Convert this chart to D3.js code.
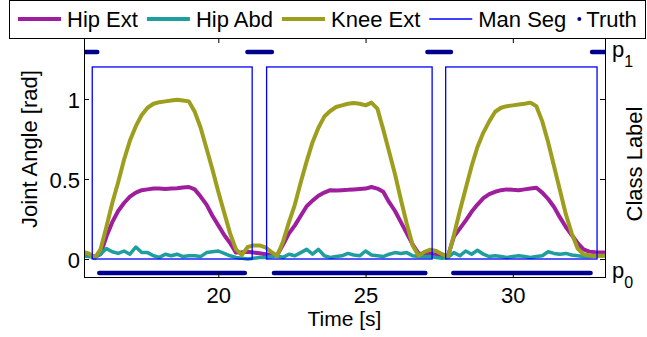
<!DOCTYPE html>
<html>
<head>
<meta charset="utf-8">
<script src="https://cdn.jsdelivr.net/npm/d3@7"></script>
<style>
  html, body { margin: 0; padding: 0; background: #fff; }
  svg { display: block; font-family: "Liberation Sans", Arial, Helvetica, sans-serif; }
</style>
</head>
<body>
<svg id="chart" width="647" height="337"></svg>
<script>
// Sample times [s]
const time = [15.4, 15.6, 15.8, 16.0, 16.2, 16.4, 16.6, 16.8, 17.0, 17.2, 17.4, 17.6, 17.8, 18.0, 18.2,
  18.4, 18.6, 18.8, 19.0, 19.2, 19.4, 19.6, 19.8, 20.0, 20.2, 20.4, 20.6, 20.8, 21.0, 21.2,
  21.4, 21.6, 21.8, 22.0, 22.2, 22.4, 22.6, 22.8, 23.0, 23.2, 23.4, 23.6, 23.8, 24.0, 24.2,
  24.4, 24.6, 24.8, 25.0, 25.2, 25.4, 25.6, 25.8, 26.0, 26.2, 26.4, 26.6, 26.8, 27.0, 27.2,
  27.4, 27.6, 27.8, 28.0, 28.2, 28.4, 28.6, 28.8, 29.0, 29.2, 29.4, 29.6, 29.8, 30.0, 30.2,
  30.4, 30.6, 30.8, 31.0, 31.2, 31.4, 31.6, 31.8, 32.0, 32.2, 32.4, 32.6, 32.8, 33.0, 33.2];

// Joint angles [rad]
const hipExt = [0.02, 0.02, 0.015, 0.03, 0.14, 0.23, 0.30, 0.35, 0.39, 0.415, 0.43, 0.435, 0.44, 0.44, 0.437,
  0.44, 0.442, 0.447, 0.45, 0.435, 0.39, 0.34, 0.27, 0.21, 0.15, 0.10, 0.04, 0.042, 0.045, 0.04,
  0.036, 0.03, 0.025, 0.025, 0.09, 0.16, 0.21, 0.27, 0.33, 0.365, 0.395, 0.415, 0.43, 0.428, 0.43,
  0.432, 0.435, 0.438, 0.44, 0.45, 0.44, 0.42, 0.355, 0.30, 0.23, 0.16, 0.09, 0.035, 0.03, 0.036,
  0.025, 0.015, 0.02, 0.14, 0.19, 0.24, 0.295, 0.34, 0.38, 0.405, 0.42, 0.43, 0.435, 0.432, 0.43,
  0.435, 0.44, 0.445, 0.415, 0.375, 0.325, 0.26, 0.20, 0.15, 0.10, 0.06, 0.046, 0.042, 0.04, 0.04];

const hipAbd = [0.02, 0.015, 0.01, 0.03, 0.065, 0.045, 0.035, 0.05, 0.03, 0.075, 0.04, 0.04, 0.02, 0.01, 0.03,
  0.02, 0.03, 0.015, 0.02, 0.02, 0.015, 0.04, 0.045, 0.05, 0.035, 0.02, 0.01, 0.005, 0.0, 0.005,
  0.01, 0.01, 0.015, 0.02, 0.01, 0.03, 0.02, 0.04, 0.06, 0.03, 0.06, 0.02, 0.01, 0.015, 0.02,
  0.035, 0.025, 0.02, 0.05, 0.025, 0.02, 0.015, 0.03, 0.04, 0.035, 0.04, 0.02, 0.015, 0.015, 0.015,
  0.01, 0.005, 0.01, 0.04, 0.02, 0.05, 0.03, 0.055, 0.03, 0.015, 0.02, 0.015, 0.01, 0.015, 0.02,
  0.015, 0.01, 0.015, 0.02, 0.045, 0.035, 0.03, 0.035, 0.025, 0.02, 0.015, 0.015, 0.02, 0.02, 0.02];

const kneeExt = [0.045, 0.035, 0.005, 0.06, 0.20, 0.35, 0.48, 0.62, 0.74, 0.83, 0.90, 0.945, 0.97, 0.98, 0.985,
  0.99, 0.995, 0.99, 0.985, 0.92, 0.82, 0.69, 0.56, 0.42, 0.29, 0.16, 0.06, 0.025, 0.075, 0.085,
  0.085, 0.072, 0.045, 0.02, 0.11, 0.23, 0.34, 0.48, 0.61, 0.73, 0.82, 0.89, 0.925, 0.95, 0.96,
  0.97, 0.975, 0.97, 0.96, 0.977, 0.94, 0.81, 0.67, 0.53, 0.37, 0.22, 0.085, 0.02, 0.045, 0.058,
  0.05, 0.03, 0.015, 0.15, 0.30, 0.44, 0.58, 0.70, 0.79, 0.86, 0.92, 0.945, 0.955, 0.96, 0.965,
  0.97, 0.977, 0.955, 0.86, 0.73, 0.58, 0.43, 0.28, 0.16, 0.065, 0.03, 0.022, 0.02, 0.02, 0.02];

// Manual segmentation windows [start, end] in s, drawn as boxes of this height [rad]
const manSegStart = [15.72, 21.64, 27.72];
const manSegEnd = [21.15, 27.26, 32.86];
const manSegHeight = 1.2;

// Ground-truth class label intervals
const truthStart = [15.4, 15.96, 20.99, 21.89, 27.10, 27.98, 32.69];
const truthEnd = [15.89, 20.90, 21.82, 27.03, 27.90, 32.64, 33.2];
const truthClass = [1, 0, 1, 0, 1, 0, 1];
const classNames = ["0", "1"];

const xTicks = [20, 25, 30];
const yTicks = [0, 0.5, 1];

const seriesNames = ["Hip Ext", "Hip Abd", "Knee Ext", "Man Seg", "Truth"];
const colors = { "Hip Ext": "#9e1e9e", "Hip Abd": "#1e9e9e", "Knee Ext": "#9e9e1e", "Man Seg": "#0000ff", "Truth": "#00008f" };

// ---- layout ----
const plot = { left: 84, right: 605, top: 38, bottom: 277 };
const FONT = 22;

const svg = d3.select("#chart");

const x = d3.scaleLinear().domain([15.44, 33.13]).range([plot.left, plot.right]);
const y = d3.scaleLinear().domain([-0.1125, 1.381]).range([plot.bottom, plot.top]);
const yClass = d3.scaleLinear().domain([-0.018, 1.063]).range([plot.bottom, plot.top]);

svg.append("defs").append("clipPath").attr("id", "plotClip")
  .append("rect")
  .attr("x", plot.left).attr("y", plot.top)
  .attr("width", plot.right - plot.left).attr("height", plot.bottom - plot.top);

const g = svg.append("g").attr("clip-path", "url(#plotClip)");

// joint angle traces
const line = d3.line().x((d) => x(d[0])).y((d) => y(d[1]));
const traces = [
  { name: "Hip Ext", values: hipExt, width: 4 },
  { name: "Hip Abd", values: hipAbd, width: 3.5 },
  { name: "Knee Ext", values: kneeExt, width: 4 }
];
traces.forEach((s) => {
  g.append("path")
    .datum(time.map((t, i) => [t, s.values[i]]))
    .attr("fill", "none")
    .attr("stroke", colors[s.name])
    .attr("stroke-width", s.width)
    .attr("stroke-linejoin", "round")
    .attr("stroke-linecap", "round")
    .attr("d", line);
});

// manual segmentation boxes
g.selectAll("rect.seg")
  .data(manSegStart.map((s, i) => [s, manSegEnd[i]]))
  .join("rect")
  .attr("class", "seg")
  .attr("x", (d) => x(d[0]))
  .attr("y", y(manSegHeight))
  .attr("width", (d) => x(d[1]) - x(d[0]))
  .attr("height", y(0) - y(manSegHeight))
  .attr("fill", "none")
  .attr("stroke", colors["Man Seg"])
  .attr("stroke-width", 1.3);

// ground-truth labels
g.selectAll("line.truth")
  .data(truthStart.map((s, i) => ({ s, e: truthEnd[i], c: truthClass[i] })))
  .join("line")
  .attr("class", "truth")
  .attr("x1", (d) => x(d.s)).attr("x2", (d) => x(d.e))
  .attr("y1", (d) => yClass(d.c)).attr("y2", (d) => yClass(d.c))
  .attr("stroke", colors["Truth"])
  .attr("stroke-width", 4.5)
  .attr("stroke-linecap", "round");

// ---- axes ----
const axisStyle = (sel) => {
  sel.attr("font-family", null).attr("font-size", null);
  sel.select(".domain").remove();
  sel.selectAll("line").attr("stroke", "#000").attr("stroke-width", 1);
  sel.selectAll("text").attr("fill", "#000").style("font-size", FONT + "px");
};

svg.append("g").attr("transform", `translate(0,${plot.bottom})`)
  .call(d3.axisBottom(x).tickValues(xTicks).tickSize(-5).tickPadding(10).tickFormat(d3.format("d")))
  .call(axisStyle);
svg.append("g").attr("transform", `translate(0,${plot.top})`)
  .call(d3.axisTop(x).tickValues(xTicks).tickSize(-5).tickFormat(""))
  .call(axisStyle);
svg.append("g").attr("transform", `translate(${plot.left},0)`)
  .call(d3.axisLeft(y).tickValues(yTicks).tickSize(-5).tickPadding(4).tickFormat((d) => d === 0.5 ? "0.5" : d3.format("d")(d)))
  .call(axisStyle)
  .selectAll("text").attr("dy", "0.4em");
svg.append("g").attr("transform", `translate(${plot.right},0)`)
  .call(d3.axisRight(y).tickValues(yTicks).tickSize(-5).tickFormat(""))
  .call(axisStyle);

// plot frame
svg.append("rect")
  .attr("x", plot.left + 0.5).attr("y", plot.top + 0.5)
  .attr("width", plot.right - plot.left).attr("height", plot.bottom - plot.top)
  .attr("fill", "none").attr("stroke", "#000").attr("stroke-width", 1);

// class labels on the right axis
const classLabels = svg.append("g").selectAll("text")
  .data(classNames)
  .join("text")
  .attr("x", plot.right + 7)
  .attr("y", (d, i) => yClass(i) + 5)
  .style("font-size", FONT + "px");
classLabels.append("tspan").text("p");
classLabels.append("tspan").attr("dy", 10).style("font-size", "16px").text((d) => d);

// axis titles
svg.append("text")
  .attr("x", (plot.left + plot.right) / 2).attr("y", 326)
  .attr("text-anchor", "middle").style("font-size", "21px")
  .text("Time [s]");
svg.append("text")
  .attr("transform", "translate(37,149) rotate(-90)")
  .attr("text-anchor", "middle").style("font-size", FONT + "px")
  .text("Joint Angle [rad]");
svg.append("text")
  .attr("transform", "translate(642,164) rotate(-90)")
  .attr("text-anchor", "middle").style("font-size", FONT + "px")
  .text("Class Label");

// ---- legend ----
const legend = svg.append("g");
legend.append("rect")
  .attr("x", 9.5).attr("y", 0.5).attr("width", 636).attr("height", 38)
  .attr("fill", "#fff").attr("stroke", "#000").attr("stroke-width", 1);

let lx = 18;
const ly = 19;
const legendWidth = { "Hip Ext": 4, "Hip Abd": 4, "Knee Ext": 4, "Man Seg": 1.3 };
seriesNames.forEach((name) => {
  if (name === "Truth") {
    legend.append("circle").attr("cx", lx + 4).attr("cy", ly).attr("r", 2).attr("fill", colors[name]);
    lx += 11;
  } else {
    legend.append("line")
      .attr("x1", lx).attr("x2", lx + 43).attr("y1", ly).attr("y2", ly)
      .attr("stroke", colors[name]).attr("stroke-width", legendWidth[name]);
    lx += 49;
  }
  const t = legend.append("text")
    .attr("x", lx).attr("y", 27)
    .style("font-size", "22px")
    .text(name);
  lx += t.node().getComputedTextLength() + 9;
});
</script>
</body>
</html>
